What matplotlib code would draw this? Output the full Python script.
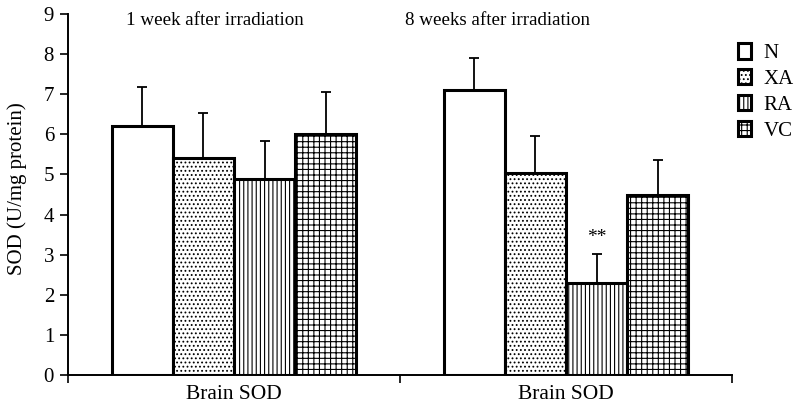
import matplotlib
matplotlib.use("Agg")
import matplotlib.pyplot as plt
import numpy as np
from matplotlib.patches import Patch

plt.rcParams['font.family'] = ['Liberation Serif', 'DejaVu Serif']
plt.rcParams['hatch.linewidth'] = 0.8

groups = ["Brain SOD", "Brain SOD"]
titles = ["1 week after irradiation", "8 weeks after irradiation"]
series = ["N", "XA", "RA", "VC"]
values = {
    "N":  [6.22, 7.10],
    "XA": [5.40, 5.03],
    "RA": [4.88, 2.30],
    "VC": [6.01, 4.48],
}
errors = {
    "N":  [0.95, 0.80],
    "XA": [1.12, 0.93],
    "RA": [0.96, 0.72],
    "VC": [1.05, 0.87],
}
hatches = {"N": "", "XA": "....", "RA": "||||", "VC": "+++"}

fig = plt.figure(figsize=(8.01, 4.07), dpi=100)
ax = fig.add_axes([68/801, 1-375/407, (732-68)/801, (375-14)/407])

centers = np.array([0.5, 1.5])
w = 0.184
for i, s in enumerate(series):
    x = centers + (i - 1.5) * w
    ax.bar(x, values[s], width=w, facecolor="white", edgecolor="black",
           linewidth=2.2, hatch=hatches[s], zorder=2)
    ax.errorbar(x, values[s], yerr=[np.zeros(2), errors[s]], fmt="none",
                ecolor="black", elinewidth=1.3, capsize=3.5, capthick=1.3, zorder=1)

ax.text(1.5 + 0.5 * w, 3.44, "**", ha="center", va="center", fontsize=14, zorder=5)

ax.set_xlim(0, 2)
ax.set_ylim(0, 9)
ax.set_yticks(range(10))
ax.set_xticks(centers)
ax.set_xticklabels(groups, fontsize=15.5)
ax.tick_params(axis="x", which="major", length=0, pad=7)
ax.set_xticks([0, 1, 2], minor=True)
ax.tick_params(axis="x", which="minor", length=6, width=1.2, direction="out")
ax.tick_params(axis="y", labelsize=15, length=6, width=1.2, direction="out", pad=4)
for sp in ["top", "right"]:
    ax.spines[sp].set_visible(False)
ax.spines["left"].set_linewidth(1.4)
ax.spines["bottom"].set_linewidth(1.4)
ax.set_ylabel("SOD (U/mg protein)", fontsize=15)
ax.yaxis.set_label_coords(-0.061, 0.515)

ax.text(0.4415, 8.85, titles[0], ha="center", va="center", fontsize=13.7)
ax.text(1.2925, 8.85, titles[1], ha="center", va="center", fontsize=13.7)

handles = [Patch(facecolor="white", edgecolor="black", linewidth=2.2,
                 hatch=hatches[s], label=s) for s in series]
fig.legend(handles=handles, loc="upper left", bbox_to_anchor=(738/801, 1-43/407),
           frameon=False, fontsize=15, handlelength=0.63, handleheight=0.77,
           handletextpad=0.6, labelspacing=0.28, borderpad=0, borderaxespad=0)

fig.savefig("out.png", dpi=100)
